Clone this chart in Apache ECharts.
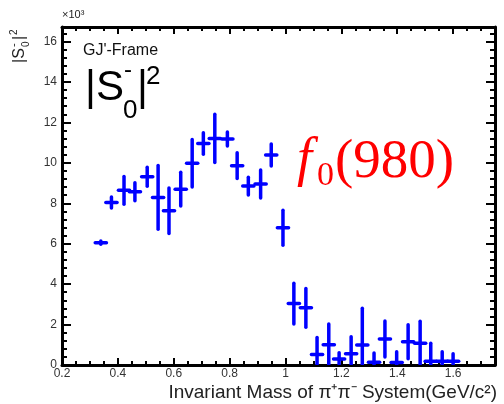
<!DOCTYPE html>
<html><head><meta charset="utf-8">
<script src="https://cdn.jsdelivr.net/npm/echarts@6/dist/echarts.min.js"></script>
<style>html,body{margin:0;padding:0;background:#fff}#c{width:504px;height:404px}</style>
</head><body><div id="c"></div><script>
// Bin centres (GeV/c^2)
const massGeV = [0.339,0.377,0.422,0.461,0.505,0.544,0.583,0.625,0.666,0.706,0.747,0.792,0.827,0.867,0.911,0.949,
                 0.991,1.030,1.073,1.113,1.155,1.192,1.235,1.275,1.317,1.356,1.398,1.439,1.482,1.520,1.561,1.600];
// |S0-|^2 intensity, in units of 10^3
const intensityK = [6.05,8.04,8.64,8.57,9.31,8.29,7.63,8.70,9.98,10.96,11.21,11.18,9.86,8.85,8.95,10.39,
                    6.79,3.04,2.83,0.52,1.00,0.30,0.56,0.99,0.14,1.29,0.12,1.15,1.08,0.19,0.19,0.19];
// symmetric errors, in units of 10^3
const errorK = [0.08,0.27,0.69,0.45,0.47,1.58,1.13,0.84,1.18,0.53,1.19,0.35,0.64,0.44,0.69,0.54,
                0.87,1.01,0.96,0.84,1.03,0.30,0.84,1.82,0.45,0.89,0.54,0.84,1.09,0.89,0.47,0.37];
const binHalfWidth = 0.02;
const xTicks = [0.2,0.4,0.6,0.8,1.0,1.2,1.4,1.6];
const xMax = 1.75;
const yTicks = [0,2,4,6,8,10,12,14,16];
const yMax = 16.72;

const data = massGeV.map((m,i)=>[m,intensityK[i],errorK[i]]);
const chart = echarts.init(document.getElementById('c'));
const font = '"Liberation Sans", Arial, sans-serif';
const ink = '#000';
function xAx(pos, showLabel){
  return {type:'value', position:pos, min:xTicks[0], max:xMax, interval:xTicks[1]-xTicks[0],
    axisLine:{show:true, onZero:false, lineStyle:{color:ink,width:3}},
    axisTick:{show:true, inside:true, length:7, lineStyle:{color:ink,width:2}},
    minorTick:{show:true, splitNumber:4, length:4, lineStyle:{color:ink,width:2}},
    splitLine:{show:false}, minorSplitLine:{show:false},
    axisLabel:{show:showLabel, margin:3, fontSize:12, color:'#333', fontFamily:font, showMaxLabel:false}};
}
function yAx(pos, showLabel){
  return {type:'value', position:pos, min:yTicks[0], max:yMax, interval:yTicks[1]-yTicks[0],
    axisLine:{show:true, onZero:false, lineStyle:{color:ink,width:3}},
    axisTick:{show:true, inside:true, length:9, lineStyle:{color:ink,width:2}},
    minorTick:{show:true, splitNumber:5, length:5, lineStyle:{color:ink,width:2}},
    splitLine:{show:false}, minorSplitLine:{show:false},
    axisLabel:{show:showLabel, margin:5, fontSize:12, color:'#333', fontFamily:font, showMaxLabel:false}};
}
chart.setOption({
  animation:false,
  backgroundColor:'#fff',
  grid:{left:62, right:9, top:27, bottom:39},
  xAxis:[xAx('bottom',true), xAx('top',false)],
  yAxis:[yAx('left',true), yAx('right',false)],
  series:[{
    type:'custom', xAxisIndex:0, yAxisIndex:0, clip:true, data:data,
    renderItem:function(params, api){
      const x=api.value(0), y=api.value(1), e=api.value(2);
      const t=api.coord([x,y+e]), b=api.coord([x,y-e]);
      const l=api.coord([x-binHalfWidth,y]), r=api.coord([x+binHalfWidth,y]);
      const st={stroke:'#0000ff', lineWidth:3.5, lineCap:'round'};
      return {type:'group', children:[
        {type:'line', shape:{x1:l[0],y1:l[1],x2:r[0],y2:r[1]}, style:st},
        {type:'line', shape:{x1:t[0],y1:t[1],x2:b[0],y2:b[1]}, style:st}
      ]};
    }
  }],
  graphic:[
    {type:'text', left:62, top:9, style:{text:'×10³', font:'11px '+font, fill:'#222'}},
    {type:'text', x:497, y:393, style:{text:'Invariant Mass of π⁺π⁻ System(GeV/c²)', font:'19px '+font, fill:'#222', align:'right', verticalAlign:'middle'}},
    {type:'text', x:83, y:51, style:{text:"GJ'-Frame", font:'16px '+font, fill:'#111', verticalAlign:'middle'}},
    {type:'group', x:0, y:0, children:[
      {type:'text', x:85, y:88, style:{text:'|S', font:'42px '+font, fill:'#000', verticalAlign:'middle'}},
      {type:'text', x:124, y:70, style:{text:'-', font:'24px '+font, fill:'#000', verticalAlign:'middle'}},
      {type:'text', x:123, y:111, style:{text:'0', font:'26px '+font, fill:'#000', verticalAlign:'middle'}},
      {type:'text', x:137, y:88, style:{text:'|', font:'42px '+font, fill:'#000', verticalAlign:'middle'}},
      {type:'text', x:146, y:77, style:{text:'2', font:'26px '+font, fill:'#000', verticalAlign:'middle'}}
    ]},
    {type:'group', x:20, y:63, rotation:Math.PI/2, children:[
      {type:'text', x:0, y:0, style:{text:'|S', font:'16px '+font, fill:'#222', verticalAlign:'middle'}},
      {type:'text', x:16, y:-6, style:{text:'-', font:'11px '+font, fill:'#222', verticalAlign:'middle'}},
      {type:'text', x:16, y:6, style:{text:'0', font:'10px '+font, fill:'#222', verticalAlign:'middle'}},
      {type:'text', x:23, y:0, style:{text:'|', font:'16px '+font, fill:'#222', verticalAlign:'middle'}},
      {type:'text', x:28, y:-6, style:{text:'2', font:'10px '+font, fill:'#222', verticalAlign:'middle'}}
    ]},
    {type:'text', x:297, y:161, style:{text:'f', font:'italic 54px "Liberation Serif", serif', fill:'#ff0000', verticalAlign:'middle'}},
    {type:'text', x:317, y:176, style:{text:'0', font:'34px "Liberation Serif", serif', fill:'#ff0000', verticalAlign:'middle'}},
    {type:'text', x:335, y:163, style:{text:'(980)', font:'55px "Liberation Serif", serif', fill:'#ff0000', verticalAlign:'middle'}}
  ]
});
</script></body></html>
